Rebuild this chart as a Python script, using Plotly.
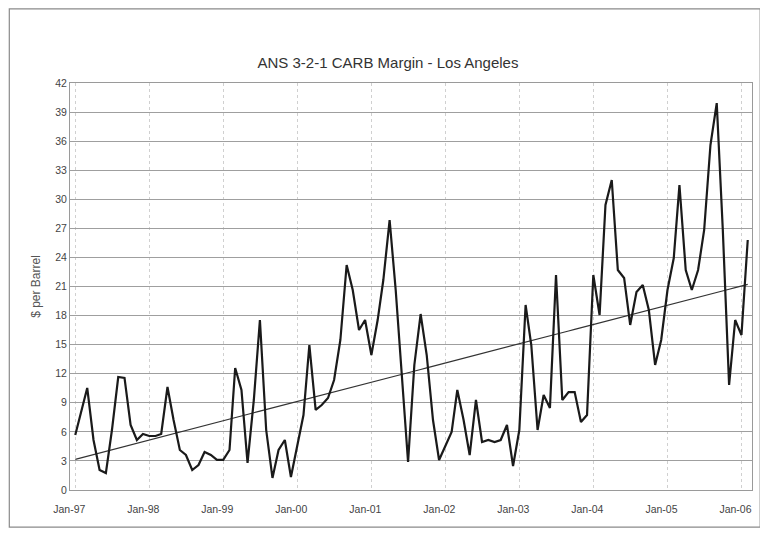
import numpy as np
import pandas as pd
import plotly.graph_objects as go

title = "ANS 3-2-1 CARB Margin - Los Angeles"
y_title = "$ per Barrel"
start_month = "1997-01-01"
margin = [5.68, 8.26, 10.53, 5.16, 2.06, 1.75, 6.19, 11.66, 11.56, 6.71,
          5.16, 5.78, 5.57, 5.57, 5.78, 10.63, 7.22, 4.13, 3.61, 2.06,
          2.58, 3.92, 3.61, 3.10, 3.10, 4.13, 12.59, 10.32, 2.79, 9.29,
          17.54, 6.19, 1.24, 4.13, 5.16, 1.34, 4.64, 7.74, 14.96, 8.26,
          8.77, 9.49, 11.35, 15.48, 23.22, 20.64, 16.51, 17.54, 13.93, 17.54,
          21.67, 27.86, 20.64, 11.35, 2.89, 12.90, 18.16, 13.93, 7.22, 3.10,
          4.64, 5.99, 10.32, 7.22, 3.61, 9.29, 4.95, 5.16, 4.95, 5.16,
          6.71, 2.48, 6.19, 19.09, 14.96, 6.19, 9.80, 8.46, 22.19, 9.29,
          10.11, 10.11, 7.02, 7.74, 22.19, 18.06, 29.41, 31.99, 22.70, 21.88,
          17.03, 20.43, 21.15, 18.57, 12.90, 15.48, 20.64, 23.94, 31.47, 22.70,
          20.64, 22.70, 26.83, 35.60, 39.93, 26.83, 10.84, 17.54, 15.99, 25.80]
y_ticks = list(range(0, 43, 3))
x_tick_labels = ["Jan-97", "Jan-98", "Jan-99", "Jan-00", "Jan-01",
                 "Jan-02", "Jan-03", "Jan-04", "Jan-05", "Jan-06"]

dates = pd.date_range(start_month, periods=len(margin), freq="MS")
idx = np.arange(len(margin))
slope, intercept = np.polyfit(idx, margin, 1)
trend = intercept + slope * idx

tick_dates = pd.date_range(start_month, periods=len(x_tick_labels), freq="12MS")

fig = go.Figure()
fig.add_trace(go.Scatter(x=dates, y=trend, mode="lines",
                         line=dict(color="#333333", width=1.2),
                         hoverinfo="skip", showlegend=False))
fig.add_trace(go.Scatter(x=dates, y=margin, mode="lines",
                         line=dict(color="#1a1a1a", width=2.2),
                         showlegend=False))

font_family = "Liberation Sans, Arial, sans-serif"
fig.update_layout(
    width=760, height=528,
    margin=dict(l=62, r=16, t=75, b=46, autoexpand=False),
    paper_bgcolor="white", plot_bgcolor="white",
    title=dict(text=title, x=0.5, xanchor="center", y=0.896, yanchor="middle",
               font=dict(family=font_family, size=15, color="#333333")),
    font=dict(family=font_family, size=10, color="#444444"),
)
fig.update_xaxes(
    range=["1996-12-06", "2006-02-22"],
    tickvals=tick_dates, ticktext=x_tick_labels,
    showgrid=True, gridcolor="#d0d0d0", griddash="dot", gridwidth=1,
    showline=True, linecolor="#9a9a9a", mirror=True,
    ticks="", tickfont=dict(size=10.5, color="#444444"), automargin=False,
    ticklabelshift=-6, ticklabelstandoff=9,
)
fig.update_yaxes(
    range=[0, 42], tickvals=y_ticks,
    showgrid=True, gridcolor="#9f9f9f", gridwidth=1,
    showline=True, linecolor="#9a9a9a", mirror=True,
    zeroline=False, ticks="", automargin=False,
    title=dict(text=y_title, font=dict(size=12, color="#555555"), standoff=12),
    tickfont=dict(size=10.5, color="#444444"),
)
fig.add_shape(type="rect", xref="paper", yref="paper",
              x0=-0.089, x1=1.012, y0=-0.091, y1=1.182,
              line=dict(color="#8a8a8a", width=1.2), layer="below")

fig.write_html("out.html")
